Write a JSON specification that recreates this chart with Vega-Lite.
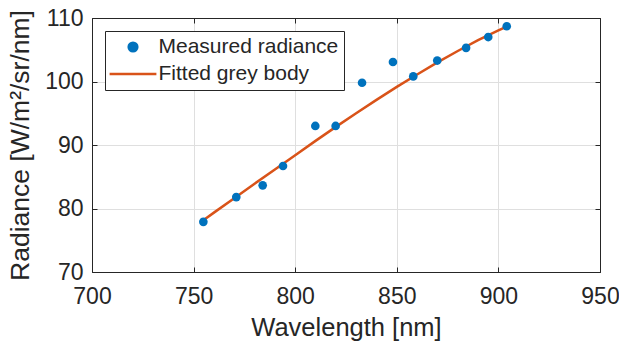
{
  "$schema": "https://vega.github.io/schema/vega-lite/v6.json",
  "autosize": "none",
  "width": 508,
  "height": 254,
  "padding": {"left": 92, "top": 18, "right": 19, "bottom": 70},
  "background": "white",
  "config": {
    "font": "Liberation Sans",
    "view": {"stroke": "#262626", "strokeWidth": 1},
    "axis": {
      "domainColor": "#262626",
      "tickColor": "#262626",
      "labelColor": "#262626",
      "titleColor": "#262626",
      "gridColor": "#dfdfdf",
      "labelFontSize": 23,
      "titleFontSize": 25.5,
      "titleFontWeight": "normal",
      "tickSize": -5,
      "labelFont": "Liberation Sans",
      "titleFont": "Liberation Sans"
    }
  },
  "datasets": {
    "measured": [
      {"wavelength": 754.8, "radiance": 77.9, "series": "Measured radiance"},
      {"wavelength": 771.0, "radiance": 81.8, "series": "Measured radiance"},
      {"wavelength": 784.0, "radiance": 83.65, "series": "Measured radiance"},
      {"wavelength": 794.0, "radiance": 86.7, "series": "Measured radiance"},
      {"wavelength": 809.9, "radiance": 93.0, "series": "Measured radiance"},
      {"wavelength": 819.9, "radiance": 93.0, "series": "Measured radiance"},
      {"wavelength": 832.9, "radiance": 99.8, "series": "Measured radiance"},
      {"wavelength": 848.1, "radiance": 103.07, "series": "Measured radiance"},
      {"wavelength": 858.1, "radiance": 100.8, "series": "Measured radiance"},
      {"wavelength": 869.9, "radiance": 103.3, "series": "Measured radiance"},
      {"wavelength": 884.1, "radiance": 105.3, "series": "Measured radiance"},
      {"wavelength": 895.0, "radiance": 107.0, "series": "Measured radiance"},
      {"wavelength": 904.1, "radiance": 108.7, "series": "Measured radiance"}
    ],
    "fit": [
      {"wavelength": 754.8, "radiance": 78.15, "series": "Fitted grey body"},
      {"wavelength": 760, "radiance": 79.35, "series": "Fitted grey body"},
      {"wavelength": 770, "radiance": 81.6, "series": "Fitted grey body"},
      {"wavelength": 780, "radiance": 83.9, "series": "Fitted grey body"},
      {"wavelength": 790, "radiance": 86.15, "series": "Fitted grey body"},
      {"wavelength": 800, "radiance": 88.4, "series": "Fitted grey body"},
      {"wavelength": 810, "radiance": 90.65, "series": "Fitted grey body"},
      {"wavelength": 820, "radiance": 92.85, "series": "Fitted grey body"},
      {"wavelength": 830, "radiance": 95.0, "series": "Fitted grey body"},
      {"wavelength": 840, "radiance": 97.1, "series": "Fitted grey body"},
      {"wavelength": 850, "radiance": 99.15, "series": "Fitted grey body"},
      {"wavelength": 860, "radiance": 101.1, "series": "Fitted grey body"},
      {"wavelength": 870, "radiance": 103.0, "series": "Fitted grey body"},
      {"wavelength": 880, "radiance": 104.8, "series": "Fitted grey body"},
      {"wavelength": 890, "radiance": 106.5, "series": "Fitted grey body"},
      {"wavelength": 900, "radiance": 108.05, "series": "Fitted grey body"},
      {"wavelength": 904.1, "radiance": 108.65, "series": "Fitted grey body"}
    ]
  },
  "layer": [
    {
      "data": {"name": "fit"},
      "mark": {"type": "line", "strokeWidth": 2.5, "clip": true},
      "encoding": {
        "x": {
          "field": "wavelength", "type": "quantitative",
          "scale": {"domain": [700, 950], "nice": false, "zero": false},
          "axis": {"orient": "bottom", "values": [700, 750, 800, 850, 900, 950], "title": "Wavelength [nm]", "labelPadding": 18, "titlePadding": 7, "grid": true, "labelFlush": false}
        },
        "y": {
          "field": "radiance", "type": "quantitative",
          "scale": {"domain": [70, 110], "nice": false, "zero": false},
          "axis": {"orient": "left", "values": [70, 80, 90, 100, 110], "title": "Radiance [W/m²/sr/nm]", "titleFontSize": 26.5, "labelPadding": 14, "titlePadding": 10, "grid": true, "labelFlush": false}
        },
        "color": {
          "field": "series", "type": "nominal",
          "scale": {"domain": ["Measured radiance", "Fitted grey body"], "range": ["#0072BD", "#D95319"]},
          "legend": {
            "title": null,
            "orient": "none",
            "legendX": 13,
            "legendY": 13,
            "padding": 5.5,
            "strokeColor": "#262626",
            "fillColor": "white",
            "labelFontSize": 21,
            "labelFont": "Liberation Sans",
            "labelColor": "#262626",
            "labelLimit": 400,
            "labelOffset": 15,
            "symbolOffset": 12,
            "rowPadding": 5,
            "symbolSize": 324,
            "symbolStrokeWidth": 2.5,
            "encode": {
              "symbols": {
                "update": {
                  "shape": {"signal": "datum.value === 'Measured radiance' ? 'circle' : 'M-2.6,0H2.6'"},
                  "size": {"signal": "datum.value === 'Measured radiance' ? 75 : 324"},
                  "fill": {"signal": "datum.value === 'Measured radiance' ? '#0072BD' : 'transparent'"},
                  "stroke": {"signal": "datum.value === 'Measured radiance' ? 'transparent' : '#D95319'"},
                  "strokeWidth": {"value": 2.5},
                  "opacity": {"value": 1}
                }
              }
            }
          }
        }
      }
    },
    {
      "data": {"name": "measured"},
      "mark": {"type": "point", "filled": true, "size": 75, "opacity": 1},
      "encoding": {
        "x": {"field": "wavelength", "type": "quantitative", "axis": null},
        "y": {"field": "radiance", "type": "quantitative", "axis": null},
        "color": {"field": "series", "type": "nominal"}
      }
    },
    {
      "data": {"name": "measured"},
      "mark": {"type": "point", "opacity": 0},
      "encoding": {
        "x": {"field": "wavelength", "type": "quantitative", "axis": {"orient": "top", "values": [700, 750, 800, 850, 900, 950], "labels": false, "grid": false, "title": null, "domain": true}},
        "y": {"field": "radiance", "type": "quantitative", "axis": {"orient": "right", "values": [70, 80, 90, 100, 110], "labels": false, "grid": false, "title": null, "domain": true}}
      }
    }
  ],
  "resolve": {"axis": {"x": "independent", "y": "independent"}}
}
